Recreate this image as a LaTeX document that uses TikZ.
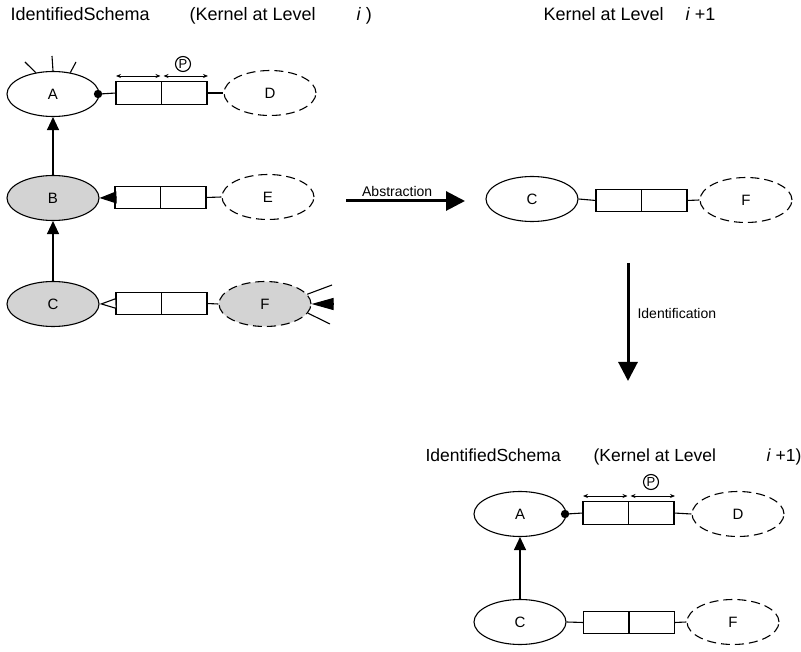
\documentclass[tikz,border=0pt]{standalone}
\usepackage{fontspec}
\setmainfont{Liberation Sans}
\usetikzlibrary{arrows.meta,shapes.geometric}
\definecolor{shade}{RGB}{211,211,211}
\begin{document}
\begin{tikzpicture}[x=1pt,y=-1pt,line width=1.1pt,
  ent/.style={ellipse,draw,minimum width=92pt,minimum height=45pt,inner sep=0pt,font=\fontsize{15}{17}\selectfont},
  ghost/.style={ent,dashed,dash pattern=on 9pt off 5pt},
  grayfill/.style={fill=shade},
  cell/.style={draw,minimum width=45.5pt,minimum height=22.5pt,inner sep=0pt,outer sep=0pt},
  head/.style={anchor=base west,inner sep=0pt,font=\fontsize{18}{21}\selectfont},
  lab/.style={inner sep=0pt,font=\fontsize{14}{16}\selectfont},
  isa/.style={-{Triangle[length=13pt,width=12pt]}},
  span/.style={{Stealth[length=5pt,width=4pt]}-{Stealth[length=5pt,width=4pt]},line width=0.8pt},
  pmark/.style={circle,draw,minimum size=15pt,inner sep=0pt,font=\fontsize{13}{15}\selectfont},
  bigarrow/.style={line width=3pt,-{Triangle[length=19pt,width=19pt]}}]
\useasboundingbox (0,0) rectangle (801,652);

% headers
\node[head] (h1) at (10,21) {IdentifiedSchema};
\node[head] (h2) at (189,21) {(Kernel at Level};
\node[head] (h3) at (356,21) {\textit{i} )};
\node[head] (h4) at (543,21) {Kernel at Level};
\node[head] (h5) at (685,21) {\textit{i} +1};
\node[head,font=\fontsize{17.5}{20}\selectfont] (h6) at (425,461) {IdentifiedSchema};
\node[head,font=\fontsize{17.5}{20}\selectfont] (h7) at (593,461) {(Kernel at Level};
\node[head,font=\fontsize{17.5}{20}\selectfont] (h8) at (766,461) {\textit{i} +1)};

% ---------- left schema ----------
\node[ent] (A) at (53,94) {A};
\node[ent,grayfill] (B) at (53,198) {B};
\node[ent,grayfill] (C) at (53,304) {C};
\node[ghost] (D) at (270,93) {D};
\node[ghost] (E) at (268,197) {E};
\node[ghost,grayfill] (F) at (265,304) {F};

\node[cell] (a1) at (138.75,93) {};
\node[cell] (a2) at (184.25,93) {};
\node[cell] (b1) at (137.75,197.5) {};
\node[cell] (b2) at (183.25,197.5) {};
\node[cell] (c1) at (138.75,303.5) {};
\node[cell] (c2) at (184.25,303.5) {};

\draw[isa] (B.north) -- (A.south);
\draw[isa] (C.north) -- (B.south);

\draw (A.east) -- (a1.west);
\fill (A.east) ++(-1.5,0) circle (4.2pt);
\draw (a2.east) -- (D.west);
\coordinate (s1a) at (116,76); \coordinate (s1b) at (160.5,76);
\coordinate (s2a) at (163.5,76); \coordinate (s2b) at (208,76);
\draw[span] (s1a) -- (s1b);
\draw[span] (s2a) -- (s2b);
\node[pmark] (P1) at (183,64) {P};

\draw[-{Triangle[length=17pt,width=12pt]}] (b1.west) -- (B.east);
\draw (b2.east) -- (E.west);
\draw[-{Triangle[open,fill=white,length=17pt,width=11pt]}] (c1.west) -- (C.east);
\draw (c2.east) -- (F.west);

% annotations on A and F
\coordinate (t1) at (52,56);
\coordinate (t2) at (25,62);
\coordinate (t3) at (76,62);
\draw (A.north) -- (t1);
\draw (A.129) -- (t2);
\draw (A.51) -- (t3);
\coordinate (u1) at (332,285);
\coordinate (u2) at (330,324);
\coordinate (u3) at (333,304);
\draw (F.13) -- (u1);
\draw (F.-12) -- (u2);
\draw[-{Triangle[length=22pt,width=12pt]}] (u3) -- (F.east);

% ---------- abstraction ----------
\coordinate (ab1) at (346,201);
\coordinate (ab2) at (465,201);
\draw[bigarrow] (ab1) -- node[lab,above=3pt,pos=0.43] {Abstraction} (ab2);

\node[ent] (C2) at (532,199) {C};
\node[ghost] (F2) at (746,200) {F};
\node[cell] (r1) at (618.75,200.5) {};
\node[cell] (r2) at (664.25,200.5) {};
\draw (C2.east) -- (r1.west);
\draw (r2.east) -- (F2.west);

% ---------- identification ----------
\coordinate (id1) at (628,263);
\coordinate (id2) at (628,381);
\draw[bigarrow] (id1) -- (id2);
\node[lab,anchor=west] (idl) at (637,313) {Identification};

% ---------- bottom schema ----------
\node[ent] (A3) at (520,514) {A};
\node[ent] (C3) at (520,622) {C};
\node[ghost] (D3) at (738,514) {D};
\node[ghost] (F3) at (733,622) {F};
\node[cell] (d1) at (605.75,513) {};
\node[cell] (d2) at (651.25,513) {};
\node[cell] (e1) at (606.25,622.5) {};
\node[cell] (e2) at (651.75,622.5) {};

\draw[isa] (C3.north) -- (A3.south);
\draw (A3.east) -- (d1.west);
\fill (A3.east) ++(-1.5,0) circle (4.2pt);
\draw (d2.east) -- (D3.west);
\coordinate (s3a) at (583,496); \coordinate (s3b) at (627.5,496);
\coordinate (s4a) at (630.5,496); \coordinate (s4b) at (675,496);
\draw[span] (s3a) -- (s3b);
\draw[span] (s4a) -- (s4b);
\node[pmark] (P2) at (651,482) {P};

\draw (C3.east) -- (e1.west);
\draw (e2.east) -- (F3.west);
\end{tikzpicture}
\end{document}
